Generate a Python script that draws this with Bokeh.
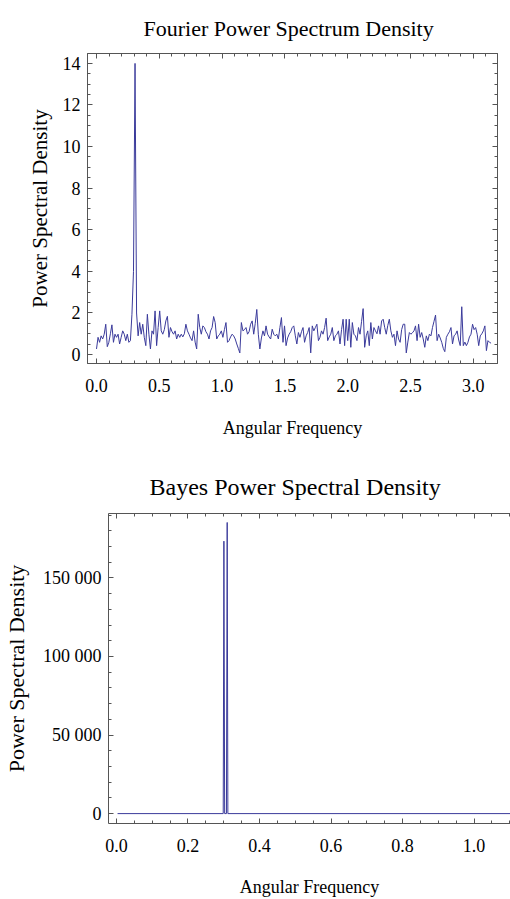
import math
from bokeh.plotting import figure
from bokeh.models import LinearAxis, FixedTicker, Range1d, NumeralTickFormatter
from bokeh.embed import file_html
from bokeh.resources import INLINE

# ---------------- data ----------------
# Fourier periodogram (257 samples from 0 to pi)
fourier_psd = [
    0.27, 0.83, 0.59, 0.90, 0.75, 0.98, 1.46, 0.38, 0.59, 1.00,
    1.43, 0.59, 0.98, 0.83, 0.98, 0.51, 0.83, 1.14, 0.98, 0.67,
    0.98, 0.59, 0.67, 1.94, 4.00, 14.00, 2.00, 0.90, 1.54, 0.98,
    1.46, 0.83, 0.43, 1.94, 0.98, 0.27, 1.14, 0.98, 2.10, 0.43,
    1.30, 2.10, 1.14, 0.98, 1.20, 1.62, 1.84, 0.83, 1.30, 1.10,
    0.98, 1.14, 0.75, 0.98, 0.83, 0.98, 0.85, 1.00, 1.46, 1.14,
    0.98, 0.80, 0.67, 1.14, 0.60, 0.27, 1.94, 1.30, 0.98, 1.38,
    1.30, 1.10, 0.98, 0.75, 1.14, 1.30, 1.83, 1.54, 0.75, 0.90,
    0.98, 1.14, 0.83, 1.20, 1.54, 0.59, 0.67, 0.85, 0.98, 0.90,
    0.75, 0.51, 0.30, 0.08, 1.54, 1.14, 1.20, 1.30, 0.98, 1.10,
    1.46, 1.62, 0.98, 1.50, 2.17, 0.98, 0.27, 0.80, 1.14, 0.90,
    1.38, 0.98, 0.85, 0.75, 1.22, 0.98, 0.90, 0.98, 0.75, 1.30,
    1.78, 0.59, 1.38, 0.43, 0.80, 0.98, 1.10, 1.30, 1.38, 0.90,
    0.51, 1.06, 0.83, 1.10, 1.30, 0.59, 0.90, 1.06, 1.30, 0.08,
    1.38, 1.14, 1.30, 1.46, 0.67, 0.83, 1.14, 0.98, 1.30, 1.75,
    0.67, 0.85, 0.98, 1.30, 0.67, 0.90, 0.98, 1.14, 0.51, 1.20,
    1.70, 0.43, 1.70, 0.67, 1.70, 0.35, 1.54, 0.98, 0.90, 0.67,
    1.30, 0.98, 1.60, 2.21, 0.35, 0.90, 1.14, 0.43, 1.54, 0.75,
    1.30, 1.14, 1.00, 1.38, 0.98, 1.62, 1.70, 1.30, 0.98, 1.40,
    1.70, 1.14, 0.83, 0.98, 0.43, 1.14, 0.75, 0.59, 1.20, 1.46,
    1.46, 0.08, 0.60, 1.06, 0.98, 1.05, 1.14, 1.38, 0.67, 1.46,
    0.83, 1.06, 0.75, 0.35, 0.90, 0.67, 0.98, 0.90, 1.30, 1.60,
    1.90, 0.67, 0.98, 0.80, 0.59, 0.30, 0.14, 0.83, 0.98, 1.10,
    1.30, 0.51, 0.90, 0.98, 1.14, 0.70, 0.43, 2.30, 0.43, 0.60,
    0.43, 0.59, 0.85, 0.98, 1.46, 1.20, 1.30, 0.98, 0.43, 0.90,
    1.00, 1.14, 1.38, 0.19, 0.67, 0.59, 0.55,
]
n_fourier = len(fourier_psd)
fourier_freq = [math.pi * k / (n_fourier - 1) for k in range(n_fourier)]

# Bayesian posterior spectrum: two narrow spikes near 0.30
bayes_freq = [0.003, 0.2985, 0.3004, 0.3025, 0.3075, 0.3096, 0.3115, 1.2]
bayes_psd = [0, 0, 173400, 0, 0, 185300, 0, 0]

# ticks and tick labels
top_x_ticks = [0.0, 0.5, 1.0, 1.5, 2.0, 2.5, 3.0]
top_y_ticks = [0, 2, 4, 6, 8, 10, 12, 14]
bot_x_ticks = [0.0, 0.2, 0.4, 0.6, 0.8, 1.0]
bot_y_ticks = [0, 50000, 100000, 150000]
bot_y_labels = ["0", "50 000", "100 000", "150 000"]

# ---------------- style ----------------
FONT = "Liberation Serif"
LINE = "#3b3b9b"
FRAME = "#555555"


def make_axis(ticks, minor, show_labels=True, label=None, label_size="18px",
              label_standoff=10, axis_label_standoff=10, overrides=None,
              fmt=None, hidden_standoff=0):
    ax = LinearAxis(ticker=FixedTicker(ticks=ticks, minor_ticks=minor))
    if fmt:
        ax.formatter = NumeralTickFormatter(format=fmt)
    ax.axis_line_color = FRAME
    ax.axis_line_width = 1
    ax.major_tick_line_color = FRAME
    ax.minor_tick_line_color = FRAME
    ax.major_tick_in = 5
    ax.major_tick_out = 0
    ax.minor_tick_in = 3
    ax.minor_tick_out = 0
    ax.major_label_text_font = FONT
    ax.major_label_text_color = "black"
    ax.major_label_standoff = label_standoff
    if show_labels:
        ax.major_label_text_font_size = "18px"
    else:
        ax.major_label_text_font_size = "0px"
        ax.major_label_text_color = None
        ax.major_label_standoff = hidden_standoff
    if overrides:
        ax.major_label_overrides = overrides
    if label:
        ax.axis_label = label
        ax.axis_label_text_font = FONT
        ax.axis_label_text_font_style = "normal"
        ax.axis_label_text_font_size = label_size
        ax.axis_label_text_color = "black"
        ax.axis_label_standoff = axis_label_standoff
    return ax


def frange(a, b, step):
    out = []
    v = a
    while v <= b + 1e-9:
        out.append(round(v, 6))
        v += step
    return out


# ---------------- Fourier figure ----------------
p1 = figure(width=510, height=455, output_backend="svg", toolbar_location=None,
            x_range=Range1d(-0.0717, 3.193), y_range=Range1d(-0.4286, 14.476),
            x_axis_type=None, y_axis_type=None,
            min_border_left=87, min_border_right=13, min_border_top=50,
            min_border_bottom=92, title="Fourier Power Spectrum Density")
p1.title.text_font = FONT
p1.title.text_font_size = "22px"
p1.title.text_font_style = "normal"
p1.title.text_color = "black"
p1.title.align = "left"
p1.title.offset = 56
p1.title.standoff = 26
p1.outline_line_color = FRAME
p1.background_fill_color = "white"
p1.border_fill_color = "white"

x_minor1 = frange(0.0, 3.1, 0.1)
y_minor1 = frange(0.0, 14.0, 0.5)
p1.add_layout(make_axis(top_x_ticks, x_minor1, label="Angular Frequency",
                        label_standoff=15, axis_label_standoff=23, fmt="0.0"),
              "below")
p1.add_layout(make_axis(top_y_ticks, y_minor1, label="Power Spectral Density",
                        label_size="21px", label_standoff=7,
                        axis_label_standoff=8), "left")
p1.add_layout(make_axis(top_x_ticks, x_minor1, show_labels=False), "above")
p1.add_layout(make_axis(top_y_ticks, y_minor1, show_labels=False), "right")

p1.line(fourier_freq, fourier_psd, line_color=LINE, line_width=1)

# ---------------- Bayes figure ----------------
p2 = figure(width=510, height=444, output_backend="svg", toolbar_location=None,
            x_range=Range1d(-0.0223, 1.1018), y_range=Range1d(-6300, 191000),
            x_axis_type=None, y_axis_type=None,
            min_border_left=107, min_border_right=0, min_border_top=58,
            min_border_bottom=73, title="Bayes Power Spectral Density")
p2.title.text_font = FONT
p2.title.text_font_size = "24px"
p2.title.text_font_style = "normal"
p2.title.text_color = "black"
p2.title.align = "left"
p2.title.offset = 41
p2.title.standoff = 28
p2.outline_line_color = None
p2.background_fill_color = "white"
p2.border_fill_color = "white"

x_minor2 = frange(0.0, 1.1, 0.05)
y_minor2 = frange(0, 190000, 10000)
p2.add_layout(make_axis(bot_x_ticks, x_minor2, label="Angular Frequency",
                        label_standoff=15, axis_label_standoff=22, fmt="0.0"),
              "below")
p2.add_layout(make_axis(bot_y_ticks, y_minor2, label="Power Spectral Density",
                        label_size="22px", label_standoff=7,
                        axis_label_standoff=11,
                        overrides={t: s for t, s in zip(bot_y_ticks, bot_y_labels)}),
              "left")
p2.add_layout(make_axis(bot_x_ticks, x_minor2, show_labels=False), "above")

p2.line(bayes_freq, bayes_psd, line_color=LINE, line_width=1)

open("out.html", "w").write(file_html([p1, p2], INLINE))
